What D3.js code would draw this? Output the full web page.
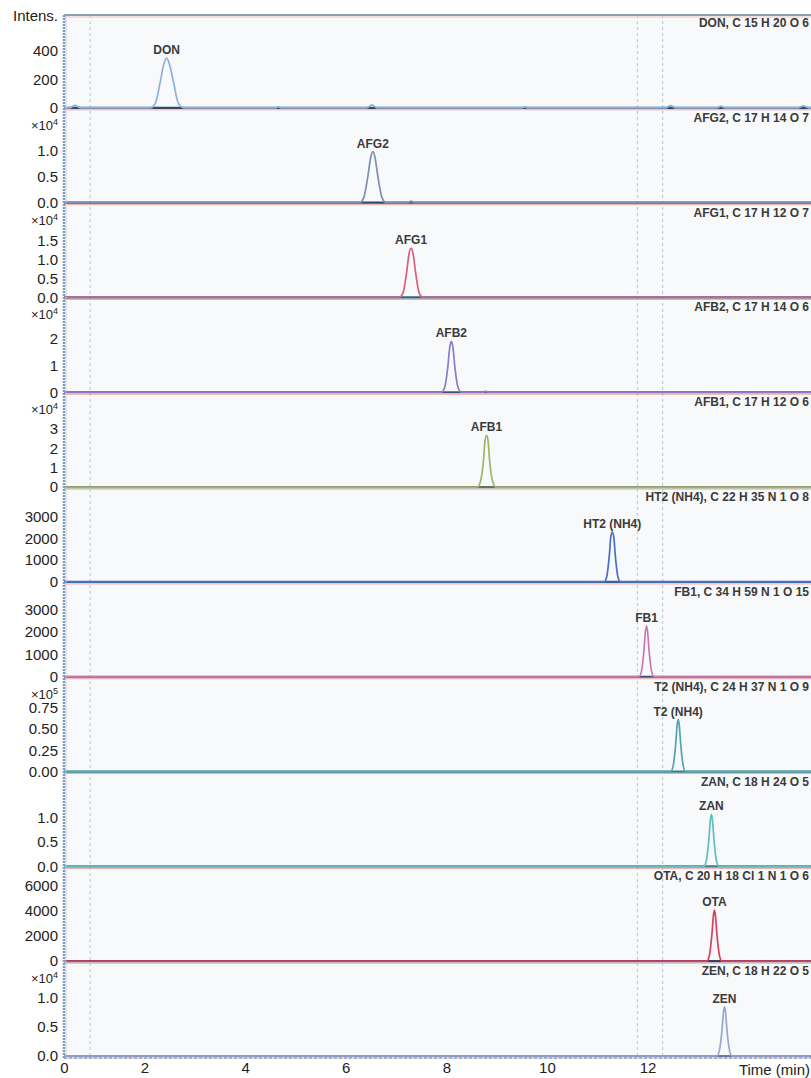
<!DOCTYPE html>
<html>
<head>
<meta charset="utf-8">
<script src="https://cdn.jsdelivr.net/npm/d3@7"></script>
<style>
  body { margin: 0; background: #fff; }
  svg { display: block; font-family: "Liberation Sans", Arial, sans-serif; }
</style>
</head>
<body>
<svg id="chart" width="811" height="1078"></svg>
<script>
// compounds, top to bottom
const compounds = ["DON", "AFG2", "AFG1", "AFB2", "AFB1", "HT2 (NH4)", "FB1", "T2 (NH4)", "ZAN", "OTA", "ZEN"];
const formulas = ["C 15 H 20 O 6", "C 17 H 14 O 7", "C 17 H 12 O 7", "C 17 H 14 O 6", "C 17 H 12 O 6",
                  "C 22 H 35 N 1 O 8", "C 34 H 59 N 1 O 15", "C 24 H 37 N 1 O 9", "C 18 H 24 O 5",
                  "C 20 H 18 Cl 1 N 1 O 6", "C 18 H 22 O 5"];
const traceColors = ["#8fb0da", "#7d90b2", "#d8607c", "#8a7cca", "#9fb46a", "#4b6fc2", "#c47ab8", "#4fa6b0", "#5cc0c2", "#d8405c", "#9aa8cc"];
const baseColors = ["#2e4866", "#2e4866", "#3c5c80", "#3a5478", "#557a60", "#3a5c9c", "#3a5478", "#3b7d88", "#3b7d88", "#3a3f62", "#6a7c9c"];

// y axis per panel (values in displayed units)
const yMax = [650, 1.78, 2.44, 3.47, 4.8, 4250, 4160, 1.088, 1.89, 7420, 1.59];
const yTicks = [[0, 200, 400], [0, 0.5, 1.0], [0, 0.5, 1.0, 1.5], [0, 1, 2], [0, 1, 2, 3],
                [0, 1000, 2000, 3000], [0, 1000, 2000, 3000], [0, 0.25, 0.5, 0.75], [0, 0.5, 1.0],
                [0, 2000, 4000, 6000], [0, 0.5, 1.0]];
const yFormats = ["d", ".1f", ".1f", "d", "d", "d", "d", ".2f", ".1f", "d", ".1f"];
const yExponent = [null, 4, 4, 4, 4, null, null, 5, null, null, 4];

// x axis (min)
const xTickValues = [0.4, 2, 4, 6, 8, 10, 12];
const xTickLabels = ["0", "2", "4", "6", "8", "10", "12"];
const markerTimes = [0.92, 11.8, 12.3];

// traces [time, intensity]
const donTrace = [[0.4, 0], [0.52, 0], [0.62, 18], [0.72, 0], [2.12, 0], [2.22, 35], [2.31, 175], [2.38, 300], [2.44, 348],
  [2.5, 300], [2.58, 175], [2.67, 35], [2.78, 0], [4.6, 0], [4.66, 6], [4.72, 0], [6.42, 0], [6.52, 20], [6.62, 0],
  [9.5, 0], [9.56, 6], [9.62, 0], [12.36, 0], [12.46, 16], [12.56, 0], [13.38, 0], [13.46, 12], [13.54, 0],
  [15.0, 0], [15.1, 14], [15.2, 0], [15.25, 0]];
const afg2Trace = [[0.4, 0], [6.28, 0], [6.36, 0.1], [6.44, 0.5], [6.5, 0.88], [6.54, 0.98], [6.58, 0.88], [6.64, 0.5],
  [6.72, 0.1], [6.8, 0], [7.24, 0], [7.3, 0.03], [7.36, 0], [15.25, 0]];
const afg1Trace = [[0.4, 0], [7.06, 0], [7.14, 0.12], [7.21, 0.65], [7.26, 1.15], [7.3, 1.3], [7.34, 1.15], [7.39, 0.65],
  [7.46, 0.12], [7.54, 0], [15.25, 0]];
const afb2Trace = [[0.4, 0], [7.9, 0], [7.97, 0.2], [8.03, 0.95], [8.07, 1.7], [8.1, 1.9], [8.13, 1.7], [8.17, 0.95],
  [8.23, 0.2], [8.3, 0], [8.74, 0], [8.78, 0.04], [8.82, 0], [15.25, 0]];
const afb1Trace = [[0.4, 0], [8.62, 0], [8.68, 0.3], [8.74, 1.4], [8.77, 2.4], [8.8, 2.68], [8.83, 2.4], [8.86, 1.4],
  [8.92, 0.3], [8.98, 0], [15.25, 0]];
const ht2Trace = [[0.4, 0], [11.14, 0], [11.19, 250], [11.24, 1200], [11.27, 2050], [11.3, 2280], [11.33, 2050],
  [11.36, 1200], [11.41, 250], [11.46, 0], [15.25, 0]];
const fb1Trace = [[0.4, 0], [11.83, 0], [11.88, 250], [11.93, 1200], [11.96, 2050], [11.98, 2270], [12.0, 2050],
  [12.03, 1200], [12.08, 250], [12.13, 0], [15.25, 0]];
const t2Trace = [[0.4, 0], [12.46, 0], [12.51, 0.07], [12.56, 0.32], [12.59, 0.55], [12.61, 0.61], [12.63, 0.55],
  [12.66, 0.32], [12.71, 0.07], [12.76, 0], [15.25, 0]];
const zanTrace = [[0.4, 0], [13.12, 0], [13.17, 0.12], [13.22, 0.56], [13.25, 0.95], [13.27, 1.06], [13.29, 0.95],
  [13.32, 0.56], [13.37, 0.12], [13.42, 0], [15.25, 0]];
const otaTrace = [[0.4, 0], [13.18, 0], [13.23, 450], [13.28, 2150], [13.31, 3650], [13.33, 4080], [13.35, 3650],
  [13.38, 2150], [13.43, 450], [13.48, 0], [15.25, 0]];
const zenTrace = [[0.4, 0], [13.38, 0], [13.43, 0.1], [13.48, 0.44], [13.51, 0.75], [13.53, 0.84], [13.55, 0.75],
  [13.58, 0.44], [13.63, 0.1], [13.68, 0], [15.25, 0]];
const traces = [donTrace, afg2Trace, afg1Trace, afb2Trace, afb1Trace, ht2Trace, fb1Trace, t2Trace, zanTrace, otaTrace, zenTrace];

const svg = d3.select("#chart");
const plotLeft = 64, plotRight = 811, plotTop = 15, plotBottom = 1058;

const x = d3.scaleLinear().domain([0.4, 15.25]).range([plotLeft, plotRight]);
const band = d3.scaleBand().domain(compounds).range([plotTop, plotBottom]).paddingInner(0).paddingOuter(0);

// plot background
svg.append("rect").attr("x", plotLeft).attr("y", plotTop).attr("width", plotRight - plotLeft).attr("height", plotBottom - plotTop)
  .attr("fill", "#f8f9fb");

// vertical marker lines
svg.append("g").selectAll("line").data(markerTimes).enter().append("line")
  .attr("x1", d => x(d)).attr("x2", d => x(d))
  .attr("y1", plotTop).attr("y2", plotBottom)
  .attr("stroke", "#b3d2ea").attr("stroke-width", 1.2).attr("stroke-dasharray", "3,3");

// top border
svg.append("line").attr("x1", plotLeft).attr("x2", plotRight).attr("y1", plotTop).attr("y2", plotTop)
  .attr("stroke", "#8a9cb4").attr("stroke-width", 2);
svg.append("line").attr("x1", plotLeft).attr("x2", plotRight).attr("y1", plotTop + 2).attr("y2", plotTop + 2)
  .attr("stroke", "#f0b8b0").attr("stroke-width", 0.8);

const line = d3.line().curve(d3.curveMonotoneX);

compounds.forEach(function(name, i) {
  const y0 = band(name);
  const base = y0 + band.bandwidth() - 2;
  const y = d3.scaleLinear().domain([0, yMax[i]]).range([base, y0]);
  const g = svg.append("g");

  // panel separator (pink) and zero line
  g.append("line").attr("x1", plotLeft).attr("x2", plotRight).attr("y1", base + 2).attr("y2", base + 2)
    .attr("stroke", "#eeaaa4").attr("stroke-width", 1);
  g.append("line").attr("x1", plotLeft).attr("x2", plotRight).attr("y1", y(0)).attr("y2", y(0))
    .attr("stroke", baseColors[i]).attr("stroke-width", 2.2);

  // trace
  g.append("path").datum(traces[i])
    .attr("d", line.x(d => x(d[0])).y(d => y(d[1])))
    .attr("fill", "none").attr("stroke", traceColors[i]).attr("stroke-width", 1.7);

  // peak label
  const peak = traces[i].reduce((a, b) => (b[1] > a[1] ? b : a));
  g.append("text").attr("x", x(peak[0])).attr("y", y(peak[1]) - 4)
    .attr("text-anchor", "middle").attr("font-size", 12).attr("font-weight", "bold")
    .attr("fill", "#3a3a3a").text(name);

  // right title
  g.append("text").attr("x", 809).attr("y", y0 + 12)
    .attr("text-anchor", "end").attr("font-size", 12).attr("font-weight", "bold")
    .attr("fill", "#3a3a3a").text(name + ", " + formulas[i]);

  // y axis
  const ax = d3.axisLeft(y).tickValues(yTicks[i]).tickSize(0).tickPadding(6).tickFormat(d3.format(yFormats[i]));
  const axg = g.append("g").attr("transform", "translate(" + plotLeft + ",0)").call(ax);
  axg.select(".domain").remove();
  axg.selectAll("text").attr("font-size", 15).attr("fill", "#222")
    .attr("font-family", "'Liberation Sans', Arial, sans-serif");

  if (yExponent[i] !== null) {
    const t = g.append("text").attr("x", plotLeft - 6).attr("y", y0 + 20)
      .attr("text-anchor", "end").attr("font-size", 13).attr("fill", "#222");
    t.append("tspan").text("×10");
    t.append("tspan").attr("font-size", 9).attr("dy", -5).text(yExponent[i]);
  }
});

// left axis (dotted blue)
svg.append("line").attr("x1", plotLeft).attr("x2", plotLeft).attr("y1", plotTop).attr("y2", plotBottom)
  .attr("stroke", "#6c9dcc").attr("stroke-width", 2.5).attr("stroke-dasharray", "2,1");
svg.append("line").attr("x1", plotLeft + 2).attr("x2", plotLeft + 2).attr("y1", plotTop).attr("y2", plotBottom)
  .attr("stroke", "#f0b4ae").attr("stroke-width", 0.8);

// x axis
svg.append("line").attr("x1", plotLeft).attr("x2", plotRight).attr("y1", plotBottom).attr("y2", plotBottom)
  .attr("stroke", "#7faad2").attr("stroke-width", 1.5).attr("stroke-dasharray", "3,2");
const xAxis = d3.axisBottom(x).tickValues(xTickValues).tickSize(0).tickPadding(4)
  .tickFormat((d, i) => xTickLabels[i]);
const xg = svg.append("g").attr("transform", "translate(0," + plotBottom + ")").call(xAxis);
xg.select(".domain").remove();
xg.selectAll("text").attr("font-size", 15).attr("fill", "#222")
  .attr("font-family", "'Liberation Sans', Arial, sans-serif");

svg.append("text").attr("x", 810).attr("y", 1075).attr("text-anchor", "end")
  .attr("font-size", 15).attr("fill", "#222").text("Time (min)");
svg.append("text").attr("x", 58).attr("y", 21).attr("text-anchor", "end")
  .attr("font-size", 15).attr("fill", "#222").text("Intens.");
</script>
</body>
</html>
